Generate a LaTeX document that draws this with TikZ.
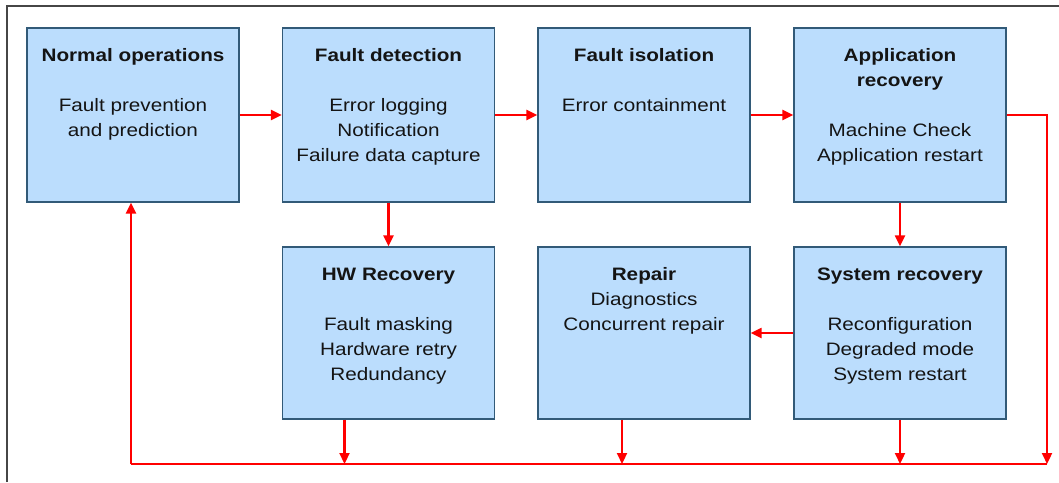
\documentclass[tikz,border=0pt]{standalone}
\usepackage{fontspec}
\setmainfont{Liberation Sans}[FakeStretch=1.15]
\usetikzlibrary{arrows.meta}

\definecolor{boxfill}{RGB}{187,221,253}
\definecolor{boxline}{RGB}{50,90,120}
\definecolor{framegray}{RGB}{70,70,70}

% top aligned text block of a stage box
\newcommand{\stagetext}[2][174pt]{\parbox[t][#1][t]{212pt}{\centering\rule{0pt}{33pt}#2}}

\begin{document}
\begin{tikzpicture}[x=1pt,y=-1pt]
        \tikzset{stage/.style = {draw=boxline, fill=boxfill, line width=1.3pt, inner sep=0pt,
                font=\fontsize{18}{25}\selectfont, text=black!92}}
        \tikzset{flow/.style = {draw=red, line width=2.2pt, -{Triangle[length=11pt,width=10pt]}}}
        \tikzset{wire/.style = {draw=red, line width=2.2pt}}

        \useasboundingbox (0,0) rectangle (1059,482);
        \draw[framegray, line width=2.2pt] (7,482) -- (7,6) -- (1059,6);

        \node[stage] (norm) at (133,115) {\stagetext{\textbf{Normal operations}\\[25pt]Fault prevention\\and prediction}};
        \node[stage] (detect) at (388.5,115) {\stagetext{\textbf{Fault detection}\\[25pt]Error logging\\Notification\\Failure data capture}};
        \node[stage] (isol) at (644,115) {\stagetext{\textbf{Fault isolation}\\[25pt]Error containment}};
        \node[stage] (appl) at (900,115) {\stagetext{\textbf{Application}\\\textbf{recovery}\\[25pt]Machine Check\\Application restart}};

        \node[stage] (hw) at (388.5,333) {\stagetext[172pt]{\textbf{HW Recovery}\\[25pt]Fault masking\\Hardware retry\\Redundancy}};
        \node[stage] (repair) at (644,333) {\stagetext[172pt]{\textbf{Repair}\\Diagnostics\\Concurrent repair}};
        \node[stage] (sysrec) at (900,333) {\stagetext[172pt]{\textbf{System recovery}\\[25pt]Reconfiguration\\Degraded mode\\System restart}};

        \coordinate (busL) at (131,464);
        \coordinate (busR) at (1047,464);

        \draw[flow] (norm) -- (detect);
        \draw[flow] (detect) -- (isol);
        \draw[flow] (isol) -- (appl);

        \draw[flow] (detect) -- (hw);
        \draw[flow] (appl) -- (sysrec);
        \draw[flow] (sysrec) -- (repair);

        \draw[flow] (appl.east) -| (busR);
        \draw[wire] (busR) -- (busL);
        \draw[flow] (busL) -- (busL |- norm.south);

        \draw[flow] ([xshift=-44pt]hw.south) -- ([xshift=-44pt]hw.south |- busL);
        \draw[flow] ([xshift=-22pt]repair.south) -- ([xshift=-22pt]repair.south |- busL);
        \draw[flow] (sysrec.south) -- (sysrec.south |- busL);
    \end{tikzpicture}
\end{document}
